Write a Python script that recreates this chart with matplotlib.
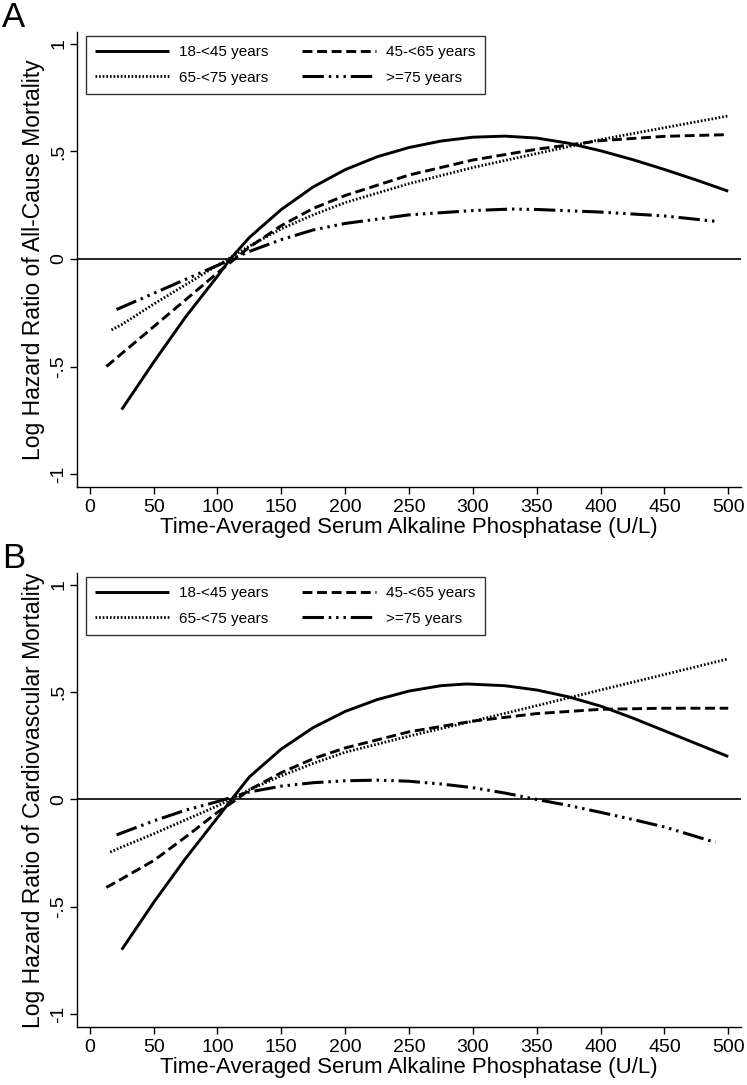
import matplotlib
matplotlib.use('Agg')
import matplotlib.pyplot as plt

# age groups and line styles (Stata-like)
labels = ['18-<45 years', '45-<65 years', '65-<75 years', '>=75 years']
x_ticks = [0, 50, 100, 150, 200, 250, 300, 350, 400, 450, 500]
y_ticks = [-1, -0.5, 0, 0.5, 1]
y_ticklabels = ['-1', '-.5', '0', '.5', '1']

# ---- Panel A: all-cause mortality ----
a_x1 = [25, 50, 75, 100, 110, 125, 150, 175, 200, 225, 250, 275, 300, 325, 350, 375, 400, 425, 450, 475, 500]
a_y1 = [-0.70, -0.48, -0.27, -0.08, 0.0, 0.10, 0.23, 0.335, 0.415, 0.475, 0.518, 0.548, 0.566, 0.571, 0.562, 0.538, 0.503, 0.462, 0.416, 0.367, 0.315]
a_x2 = [13, 25, 50, 75, 100, 125, 150, 175, 200, 250, 300, 350, 400, 450, 500]
a_y2 = [-0.50, -0.44, -0.315, -0.19, -0.065, 0.055, 0.155, 0.235, 0.295, 0.39, 0.46, 0.51, 0.55, 0.57, 0.578]
a_x3 = [17, 25, 50, 75, 100, 125, 150, 175, 200, 250, 300, 350, 400, 450, 500]
a_y3 = [-0.33, -0.305, -0.21, -0.12, -0.03, 0.06, 0.14, 0.205, 0.262, 0.35, 0.425, 0.49, 0.555, 0.61, 0.665]
a_x4 = [21, 50, 75, 100, 125, 150, 175, 200, 250, 300, 330, 350, 400, 450, 490]
a_y4 = [-0.235, -0.16, -0.095, -0.03, 0.035, 0.09, 0.135, 0.165, 0.205, 0.225, 0.232, 0.23, 0.218, 0.20, 0.175]

# ---- Panel B: cardiovascular mortality ----
b_x1 = [25, 50, 75, 100, 111, 125, 150, 175, 200, 225, 250, 275, 295, 325, 350, 375, 400, 425, 450, 475, 500]
b_y1 = [-0.70, -0.48, -0.275, -0.085, 0.0, 0.105, 0.235, 0.335, 0.41, 0.465, 0.505, 0.53, 0.538, 0.53, 0.51, 0.478, 0.435, 0.38, 0.32, 0.26, 0.20]
b_x2 = [13, 25, 50, 75, 100, 115, 125, 150, 175, 200, 250, 300, 350, 400, 450, 500]
b_y2 = [-0.41, -0.37, -0.285, -0.175, -0.06, 0.0, 0.045, 0.125, 0.19, 0.24, 0.315, 0.365, 0.40, 0.42, 0.425, 0.425]
b_x3 = [16, 25, 50, 75, 100, 125, 150, 175, 200, 250, 300, 350, 400, 450, 500]
b_y3 = [-0.245, -0.222, -0.16, -0.095, -0.03, 0.045, 0.11, 0.168, 0.22, 0.295, 0.365, 0.437, 0.51, 0.582, 0.655]
b_x4 = [21, 50, 75, 100, 125, 150, 175, 200, 225, 250, 275, 300, 325, 350, 375, 400, 425, 450, 490]
b_y4 = [-0.165, -0.10, -0.05, -0.01, 0.035, 0.062, 0.078, 0.087, 0.09, 0.085, 0.072, 0.055, 0.03, 0.0, -0.028, -0.06, -0.093, -0.128, -0.20]

plt.rcParams['font.family'] = ['Liberation Sans', 'DejaVu Sans']

styles = [
    dict(ls='-', lw=2.1),
    dict(ls=(0, (3.4, 1.6)), lw=2.1),
    dict(ls=(0, (0.6, 0.7)), lw=2.0),
    dict(ls=(0, (7, 1.6, 0.8, 1.6, 0.8, 1.6, 0.8, 1.6)), lw=2.2),
]

W, H = 747, 1085
fig = plt.figure(figsize=(W / 100, H / 100), dpi=100)


def panel(top_px, bottom_px, letter, ylabel, series):
    left_px, right_px = 77, 741
    ax = fig.add_axes([left_px / W, 1 - bottom_px / H, (right_px - left_px) / W, (bottom_px - top_px) / H])
    handles = []
    for (xs, ys), st in zip(series, styles):
        h, = ax.plot(xs, ys, color='black', solid_capstyle='butt', dash_capstyle='butt',
                     solid_joinstyle='round', linestyle=st['ls'], linewidth=st['lw'])
        handles.append(h)
    ax.axhline(0, color='black', lw=1.2)
    ax.set_xlim(-10, 510)
    ax.set_ylim(-1.06, 1.055)
    ax.set_xticks(x_ticks)
    ax.set_yticks(y_ticks)
    ax.set_yticklabels(y_ticklabels, rotation=90, va='center')
    ax.tick_params(direction='out', length=5, width=1, labelsize=14, colors='black')
    ax.tick_params(axis='y', pad=2)
    ax.tick_params(axis='x', pad=4)
    for s in ['top', 'right']:
        ax.spines[s].set_visible(False)
    for s in ['left', 'bottom']:
        ax.spines[s].set_linewidth(1.0)
    hpx = bottom_px - top_px
    ax.set_xlabel('Time-Averaged Serum Alkaline Phosphatase (U/L)', fontsize=16)
    ax.xaxis.set_label_coords(0.5, -30 / hpx)
    ax.set_ylabel(ylabel, fontsize=16.5)
    ax.yaxis.set_label_coords(-0.048, 0.5)
    # legend: row 1 solid/dashed, row 2 dotted/dash-dot
    order = [0, 2, 1, 3]
    leg = ax.legend([handles[i] for i in order], [labels[i] for i in order], ncol=2,
                    loc='upper left', bbox_to_anchor=(86 / W, 1 - (top_px + 4) / H),
                    bbox_transform=fig.transFigure, borderaxespad=0, fontsize=11,
                    handlelength=4.8, handletextpad=0.7, columnspacing=2.2,
                    labelspacing=0.75, borderpad=0.6, frameon=True, fancybox=False)
    leg.get_frame().set_edgecolor('black')
    leg.get_frame().set_linewidth(1.0)
    fig.text(2 / W, 1 - (top_px - 5) / H, letter, fontsize=25, va='baseline', ha='left')
    return ax


panel(32, 487, 'A', 'Log Hazard Ratio of All-Cause Mortality',
      [(a_x1, a_y1), (a_x2, a_y2), (a_x3, a_y3), (a_x4, a_y4)])
panel(573, 1027, 'B', 'Log Hazard Ratio of Cardiovascular Mortality',
      [(b_x1, b_y1), (b_x2, b_y2), (b_x3, b_y3), (b_x4, b_y4)])

fig.savefig('out.png', dpi=100)
